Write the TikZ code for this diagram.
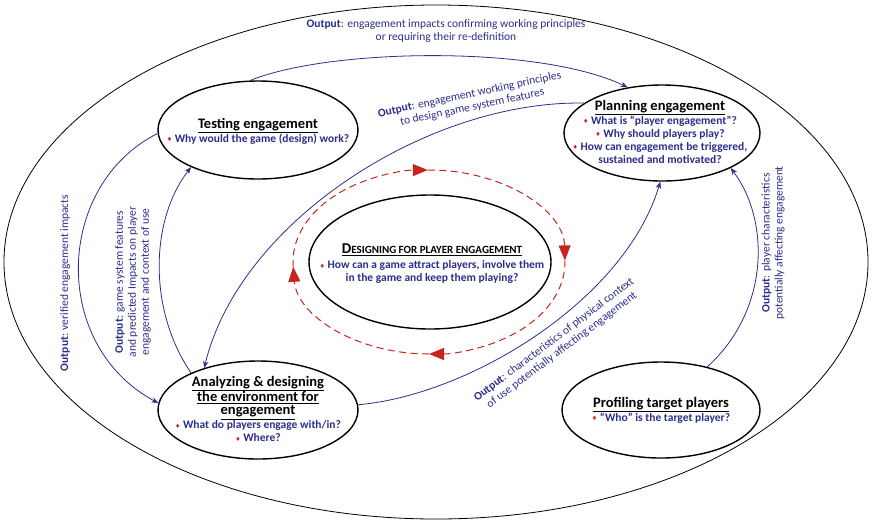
\documentclass[tikz,border=0pt]{standalone}
\usepackage{fontspec}
\setmainfont{Carlito}
\newfontfamily\symf{DejaVu Sans}
\usetikzlibrary{shapes.geometric,arrows.meta}
\definecolor{navy}{RGB}{43,46,140}
\definecolor{dred}{RGB}{200,35,30}
\definecolor{bred}{RGB}{225,30,30}
\newcommand{\bul}{{\symf\fontsize{6}{6}\selectfont\color{bred}\raisebox{0.25ex}{♦}}\ }
\newcommand{\ttlf}{\color{black}\fontsize{14.5}{17}\selectfont}
\begin{document}
\begin{tikzpicture}[x=1pt,y=-1pt,
  phase/.style={ellipse, draw=black, line width=1.4pt, inner sep=0pt},
  txt/.style={align=center, inner sep=0pt, text=navy, font=\fontsize{11.5}{13}\selectfont\bfseries},
  conn/.style={draw=navy, line width=0.8pt, -{Stealth[length=7pt,width=5.5pt]}},
  lbl/.style={text=navy, align=center, font=\fontsize{11.5}{13}\selectfont, inner sep=0pt},
  cyc/.style={draw=dred, line width=1pt, dash pattern=on 7pt off 4.5pt,
     -{Triangle[length=15pt,width=12pt,fill=dred]}},
  ea/.style={x radius=136pt, y radius=92pt}
]
\useasboundingbox (0,0) rectangle (872,523);

% outer ellipse
\node[ellipse, draw=black, line width=0.8pt, minimum width=864pt, minimum height=514pt, inner sep=0pt] (outer) at (436,262) {};

% phase ellipses
\node[phase, minimum width=200pt, minimum height=98pt] (test) at (258,130) {};
\node[phase, minimum width=196pt, minimum height=96pt] (plan) at (662,133) {};
\node[phase, minimum width=242pt, minimum height=134pt] (des) at (430,262) {};
\node[phase, minimum width=200pt, minimum height=98pt] (ana) at (258,410) {};
\node[phase, minimum width=198pt, minimum height=96pt] (prof) at (661,410) {};

% texts
\node[txt] (testT) at (258,131) {{\ttlf\underline{Testing engagement}}\\[1pt]
  \bul Why would the game (design) work?};
\node[txt] (planT) at (660,132) {{\ttlf\underline{Planning engagement}}\\[1pt]
  \bul What is “player engagement”?\\
  \bul Why should players play?\\
  \bul How can engagement be triggered,\\
  sustained and motivated?};
\node[txt] (desT) at (432,264) {{\color{black}\underline{{\fontsize{15}{17}\selectfont D}{\fontsize{11}{17}\selectfont ESIGNING FOR PLAYER ENGAGEMENT}}}\\[2pt]
  \bul How can a game attract players, involve them\\
  in the game and keep them playing?};
\node[txt] (anaT) at (258,409) {{\ttlf\underline{Analyzing \& designing}}\\
  {\ttlf\underline{the environment for}}\\
  {\ttlf\underline{engagement}}\\[1pt]
  \bul What do players engage with/in?\\
  \bul Where?};
\node[txt] (profT) at (661,410) {{\ttlf\underline{Profiling target players}}\\[1pt]
  \bul “Who” is the target player?};

% dashed red cycle (clockwise on screen), four arcs each ending in an arrow
\coordinate (cc) at (429,262);
\draw[cyc] ([shift={(cc)}]90.5:136pt and 92pt) arc[start angle=90.5, end angle=1, ea];
\draw[cyc] ([shift={(cc)}]1:136pt and 92pt) arc[start angle=1, end angle=-90, ea];
\draw[cyc] ([shift={(cc)}]-90:136pt and 92pt) arc[start angle=-90, end angle=-177, ea];
\draw[cyc] ([shift={(cc)}]-177:136pt and 92pt) arc[start angle=-177, end angle=-269.5, ea];

% connectors
\draw[conn] (test.99) .. controls (330,48) and (540,45) .. (plan.127);
\draw[conn] (plan.159) .. controls (430,100) and (240,220) .. (ana.142);
\draw[conn] (ana.151) .. controls (148,310) and (150,220) .. (test.209);
\draw[conn] (test.182) .. controls (55,185) and (50,345) .. (ana.176);
\draw[conn] (ana.3) .. controls (470,395) and (625,300) .. (plan.268);
\draw[conn] (prof.43) .. controls (770,310) and (770,220) .. (plan.333);

% labels
\node[lbl] (l1) at (446,31) {\textbf{Output}: engagement impacts confirming working principles\\or requiring their re-definition};
\node[lbl, rotate=12] (l2) at (471,101) {\textbf{Output}: engagement working principles\\to design game system features};
\node[lbl, rotate=90] (l3) at (65,283) {\textbf{Output}: verified engagement impacts};
\node[lbl, rotate=90] (l4) at (133,282) {\textbf{Output}: game system features\\and predicted Impacts on player\\engagement and context of use};
\node[lbl, rotate=37] (l5) at (558,345) {\textbf{Output}: characteristics of physical context\\of use potentially affecting engagement};
\node[lbl, rotate=90] (l6) at (773,243) {\textbf{Output}: player characteristics\\potentially affecting engagement};
\end{tikzpicture}
\end{document}
